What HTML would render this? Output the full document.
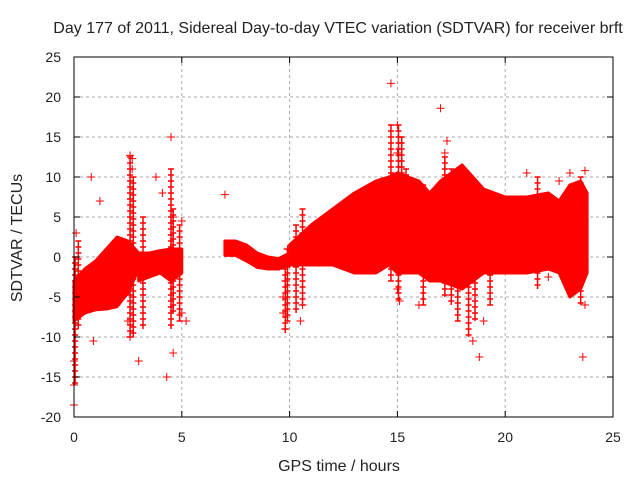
<!DOCTYPE html>
<html><head><meta charset="utf-8"><style>
body{margin:0;background:#fff}
svg text{font-family:"Liberation Sans",sans-serif;font-size:14px;fill:#222}
svg text.big{font-size:16px}
</style></head><body>
<svg id="chart" width="640" height="480" viewBox="0 0 640 480" xmlns="http://www.w3.org/2000/svg">
<rect width="640" height="480" fill="#fff"/>
<text class="big" x="338" y="33" text-anchor="middle">Day 177 of 2011, Sidereal Day-to-day VTEC variation (SDTVAR) for receiver brft</text>
<text class="big" x="339" y="471" text-anchor="middle">GPS time / hours</text>
<text class="big" transform="translate(22,238) rotate(-90)" text-anchor="middle">SDTVAR / TECUs</text>
<g id="grid"></g><g id="data"></g><g id="axes"></g>
</svg>
<script>
const xTicks=[0,5,10,15,20,25];
const yTicks=[-20,-15,-10,-5,0,5,10,15,20,25];
// bands: hours, lower, upper
const band1X=[0,0.5,1,1.5,2,2.5,3];
const band1Lo=[-8,-7,-6.6,-6.5,-6.2,-4.5,-1.5];
const band1Hi=[-3,-1.5,-0.5,1,2.5,2,0.5];
const band2X=[3,3.5,4,4.5,5];
const band2Lo=[-3,-2.5,-2,-3,-2];
const band2Hi=[0.5,0.5,0.8,1,1];
const band3X=[7,7.5,8,8.5,9,9.5,10];
const band3Lo=[0.2,0.2,-0.5,-1.3,-1.5,-1.5,-1];
const band3Hi=[2,2,1.5,0.5,0,-0.2,0.5];
const band4X=[10,11,12,13,14,14.6,15,16,16.5,17,18,19,20,21,22,22.5,23,23.5,23.8];
const band4Lo=[-1,-1,-1,-2,-2,-1,-2,-2,-3,-3,-4,-2,-2,-2,-1.5,-2,-5,-4,-2];
const band4Hi=[1.5,4,6,8,9.5,10,10.5,9.5,8,9.5,11.5,8.5,7.5,7.5,8,7,9,9.5,8];
// vertical spike clusters: hour, min, max
const spikeX=[0.05,0.2,2.6,2.75,3.2,4.5,4.6,4.9,9.8,9.9,10.3,10.6,14.7,15.05,15.2,15.4,16.2,17.2,17.5,17.8,18.3,18.6,19.3,21.5,23.5];
const spikeLo=[-16,-9,-10,-10,-9,-9,-7,-8,-9.5,-8,-7,-6,-3,-5.5,-2,-2,-6,-5,-6,-8,-10,-8,-6,-4,-6];
const spikeHi=[0,2,12.5,10,5,11,6,4,0,1,4,6,16.5,16.5,15,11,9,12.5,11,10,6,5,6,10,10];
// outlier points
const outX=[0,0,0,0.1,0.9,0.8,1.2,2.6,2.7,2.7,2.6,3,4.5,4.6,4.3,5,5.2,4.1,7,9.8,9.7,9.7,9.8,10.5,10.6,14.7,15,15,15.1,15,16,17,17.3,17.2,18.5,18.8,19,21,22,23,23.6,23.7,23.7,22.5,2.5,3.8,4.6,5,9.9];
const outY=[-16,-18.5,-13,3,-10.5,10,7,12.7,12.3,11,-10,-13,15,-12,-15,4.5,-8,8,7.8,-9,-7,-5,-3,-8,-6,21.7,16.5,13,-5.5,-4,-6,18.6,14.5,13,-10.5,-12.5,-8,10.5,-2.5,10.5,-12.5,-6,10.8,9.5,-8,10,5,-7,1];
const X=v=>74+v*21.56, Y=v=>257+(0-v)*8.0;
const NS="http://www.w3.org/2000/svg";
const mk=(t,a,p)=>{const e=document.createElementNS(NS,t);for(const k in a)e.setAttribute(k,a[k]);p.appendChild(e);return e;};
const grid=document.getElementById('grid'),data=document.getElementById('data'),axes=document.getElementById('axes');
xTicks.forEach(t=>{
 if(t>0&&t<25){const l=mk('line',{x1:X(t),x2:X(t),y1:Y(25),y2:Y(-20),stroke:'#aaa','stroke-dasharray':'3,3'},grid);
 
 }
 const tx=mk('text',{x:X(t),y:442,'text-anchor':'middle'},axes);tx.textContent=t;
 
 
 mk('line',{x1:X(t),x2:X(t),y1:Y(-20),y2:Y(-20)-6,stroke:'#000'},axes);
 mk('line',{x1:X(t),x2:X(t),y1:Y(25),y2:Y(25)+6,stroke:'#000'},axes);
});
yTicks.forEach(t=>{
 if(t>-20&&t<25){const l=mk('line',{x1:X(0),x2:X(25),y1:Y(t),y2:Y(t),stroke:'#aaa','stroke-dasharray':'3,3'},grid);
 
 }
 const tx=mk('text',{x:61,y:Y(t)+5,'text-anchor':'end'},axes);tx.textContent=t;
 
 
 mk('line',{x1:X(0),x2:X(0)+6,y1:Y(t),y2:Y(t),stroke:'#000'},axes);
 mk('line',{x1:X(25),x2:X(25)-6,y1:Y(t),y2:Y(t),stroke:'#000'},axes);
});
const frame=mk('rect',{x:X(0),y:Y(25),width:X(25)-X(0),height:Y(-20)-Y(25),fill:'none',stroke:'#000'},axes);


[[band1X,band1Lo,band1Hi],[band2X,band2Lo,band2Hi],[band3X,band3Lo,band3Hi],[band4X,band4Lo,band4Hi]].forEach((b,i)=>{
 const [xs,lo,hi]=b;let pts=[];
 xs.forEach((x,j)=>pts.push(X(x)+','+Y(hi[j])));
 for(let j=xs.length-1;j>=0;j--)pts.push(X(xs[j])+','+Y(lo[j]));
 const p=mk('polygon',{points:pts.join(' '),fill:'#f00',stroke:'#f00','stroke-width':3,'stroke-linejoin':'round'},data);
 
 
});
spikeX.forEach((x,i)=>{
 const x0=X(x),y0=Y(spikeHi[i]),y1=Y(spikeLo[i]);
 let d=`M${x0},${y0}V${y1}`;
 for(let yy=y0;yy<=y1;yy+=6)d+=`M${x0-3},${yy}H${x0+3}`;
 const p=mk('path',{d:d,stroke:'#f00','stroke-width':1.5},data);
 
 
});
outX.forEach((x,i)=>{
 const cx=X(x),cy=Y(outY[i]);
 const p=mk('path',{d:`M${cx-4},${cy}H${cx+4}M${cx},${cy-4}V${cy+4}`,stroke:'#f00','stroke-width':1},data);
 
 
});
</script>
</body></html>
